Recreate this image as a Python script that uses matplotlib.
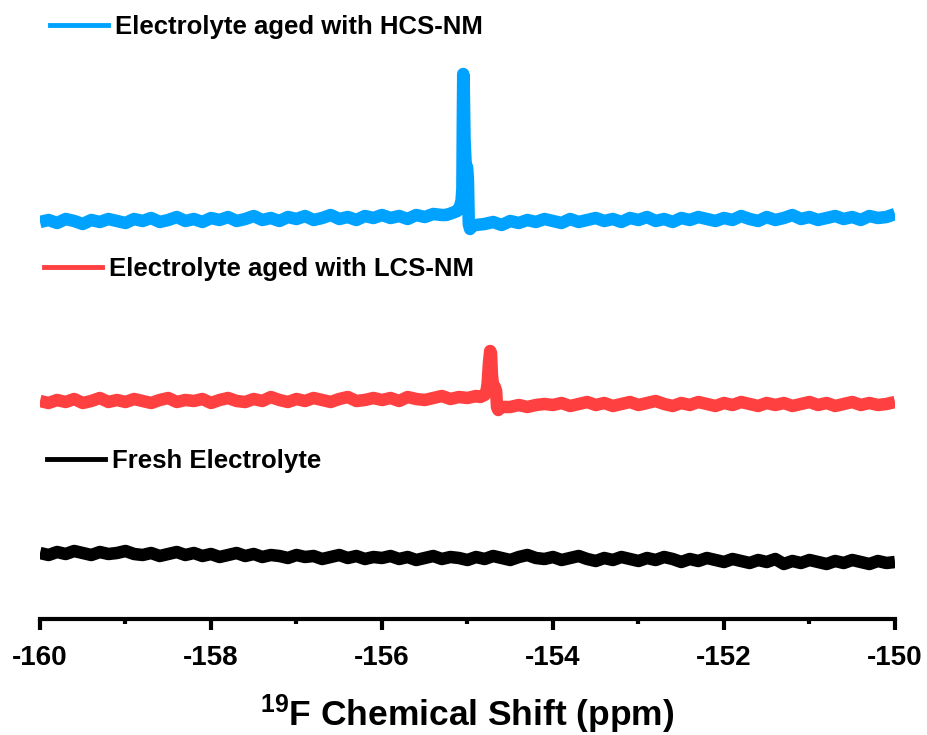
import numpy as np
import matplotlib.pyplot as plt
from matplotlib.lines import Line2D

plt.rcParams['font.family'] = ['Liberation Sans', 'DejaVu Sans']
plt.rcParams['font.weight'] = 'bold'
plt.rcParams['axes.unicode_minus'] = False
plt.rcParams['mathtext.fontset'] = 'custom'
plt.rcParams['mathtext.bf'] = 'Liberation Sans:bold'
plt.rcParams['mathtext.rm'] = 'Liberation Sans'

# baseline intensities sampled every 0.1 ppm from -160 to -150 (arb. units)
hcs_base = [397, 399, 396, 400, 398, 395, 399, 397, 400, 398,
            396, 400, 398, 401, 397, 399, 402, 398, 400, 397,
            401, 399, 402, 398, 400, 403, 399, 401, 398, 402,
            400, 403, 399, 401, 404, 400, 402, 399, 403, 401,
            404, 401, 403, 400, 404, 402, 405, 404, 407, 409,
            400, 393, 395, 397, 394, 398, 396, 399, 397, 400,
            398, 396, 400, 397, 399, 401, 398, 400, 397, 401,
            399, 402, 398, 400, 397, 401, 399, 402, 400, 398,
            401, 399, 403, 400, 398, 402, 399, 401, 404, 400,
            402, 399, 401, 403, 400, 402, 399, 403, 401, 402,
            405]
lcs_base = [218, 216, 219, 217, 220, 216, 218, 221, 217, 219,
            217, 220, 218, 216, 219, 221, 217, 219, 218, 220,
            216, 219, 221, 218, 217, 220, 218, 222, 219, 217,
            220, 218, 221, 219, 217, 220, 222, 218, 219, 221,
            219, 221, 218, 222, 220, 219, 221, 223, 220, 222,
            221, 223, 220, 224, 222, 212, 214, 212, 214, 215,
            214, 216, 213, 215, 217, 214, 216, 213, 215, 217,
            214, 216, 218, 215, 213, 216, 214, 217, 215, 213,
            216, 214, 217, 215, 213, 216, 214, 216, 213, 215,
            217, 214, 216, 213, 215, 217, 214, 216, 214, 215,
            217]
fresh_base = [66, 64, 67, 65, 68, 66, 64, 67, 65, 66,
              68, 65, 64, 66, 63, 65, 67, 64, 66, 63,
              65, 62, 64, 66, 63, 65, 62, 64, 63, 61,
              64, 62, 63, 60, 62, 64, 61, 63, 60, 62,
              61, 63, 60, 62, 59, 61, 63, 60, 62, 61,
              59, 62, 60, 63, 61, 59, 62, 64, 61, 60,
              62, 59, 61, 63, 60, 58, 61, 59, 62, 60,
              58, 61, 59, 62, 60, 57, 60, 58, 61, 59,
              57, 60, 58, 56, 59, 57, 60, 55, 58, 56,
              59, 57, 55, 58, 56, 59, 57, 55, 58, 56,
              57]

# peak regions
hcs_peak_x = [-155.25, -155.18, -155.12, -155.09, -155.07, -155.06, -155.055, -155.05,
              -155.045, -155.035, -155.02, -155.005, -154.995, -154.985, -154.97,
              -154.95, -154.90]
hcs_peak_y = [404, 406, 408, 412, 418, 430, 495, 545, 540, 480, 452, 452, 440, 395, 390,
              393, 394]
lcs_peak_x = [-154.85, -154.80, -154.78, -154.765, -154.75, -154.735, -154.725,
              -154.715, -154.70, -154.68, -154.665, -154.655, -154.64, -154.62, -154.60]
lcs_peak_y = [222, 224, 227, 235, 255, 268, 266, 245, 232, 232, 228, 212, 209, 211, 212]

labels = ['Electrolyte aged with HCS-NM', 'Electrolyte aged with LCS-NM', 'Fresh Electrolyte']
colors = ['#00A2FF', '#FF4040', '#000000']


def merge(base, px, py):
    x = np.linspace(-160, -150, len(base))
    y = np.array(base, dtype=float)
    if px:
        keep = (x < min(px) - 0.005) | (x > max(px) + 0.005)
        x = np.concatenate([x[keep], px])
        y = np.concatenate([y[keep], py])
        order = np.argsort(x)
        x, y = x[order], y[order]
    return x, y


fig = plt.figure(figsize=(9.28, 7.35), dpi=100)
ax = fig.add_axes([40 / 928, 116 / 735, 855 / 928, 619 / 735])

traces = [merge(hcs_base, hcs_peak_x, hcs_peak_y),
          merge(lcs_base, lcs_peak_x, lcs_peak_y),
          merge(fresh_base, [], [])]
for (x, y), c in zip(traces, colors):
    ax.plot(x, y, color=c, lw=9, solid_joinstyle='round', solid_capstyle='butt')

ax.set_xlim(-160, -150)
ax.set_ylim(0, 619)
for s in ['left', 'right', 'top']:
    ax.spines[s].set_visible(False)
ax.spines['bottom'].set_linewidth(3)
ax.set_yticks([])
ax.set_xticks(np.arange(-160, -149, 2))
ax.set_xticks(np.arange(-159, -150, 2), minor=True)
ax.tick_params(axis='x', which='major', length=8, width=3, labelsize=20, pad=11)
ax.tick_params(axis='x', which='minor', length=3.5, width=3)
ax.set_xlabel(r'$\mathbf{^{19}}$F Chemical Shift (ppm)', fontsize=25.5, fontweight='bold', labelpad=15)

legend_pos = [(50 / 928, 1 - 27 / 735), (44 / 928, 1 - 269 / 735), (47 / 928, 1 - 461 / 735)]
for lab, c, pos in zip(labels, colors, legend_pos):
    h = Line2D([], [], color=c, lw=3.5)
    leg = fig.legend([h], [lab], loc='center left', bbox_to_anchor=pos, frameon=False,
                     borderpad=0, borderaxespad=0, handlelength=2.26, handletextpad=0.27,
                     prop={'size': 18.5, 'weight': 'bold'})

fig.savefig('out.png', dpi=100)
